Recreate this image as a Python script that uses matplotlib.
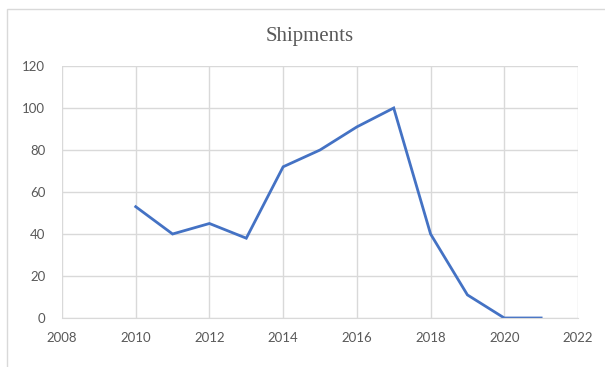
import matplotlib
matplotlib.use("Agg")
import matplotlib.pyplot as plt
from matplotlib.patches import Rectangle

years = [2010, 2011, 2012, 2013, 2014, 2015, 2016, 2017, 2018, 2019, 2020, 2021]
shipments = [53, 40, 45, 38, 72, 80, 91, 100, 40, 11, 0, 0]
x_ticks = [2008, 2010, 2012, 2014, 2016, 2018, 2020, 2022]
y_ticks = [0, 20, 40, 60, 80, 100, 120]

W, H = 605, 367
fig = plt.figure(figsize=(W / 100, H / 100), dpi=100)
fig.patch.set_facecolor("white")

# chart frame
fig.patches.append(Rectangle((7 / W, -0.1), 1.2, 1 - 9 / H + 0.1,
                             transform=fig.transFigure, fill=False,
                             edgecolor="#d9d9d9", linewidth=1.0))

ax = fig.add_axes([62 / W, 1 - 318 / H, (578 - 62) / W, (318 - 66) / H])
ax.plot(years, shipments, color="#4472C4", linewidth=2.0, solid_joinstyle="miter")

ax.set_xlim(2008, 2022)
ax.set_ylim(0, 120)
ax.set_xticks(x_ticks)
ax.set_yticks(y_ticks)
ax.grid(True, color="#d9d9d9", linewidth=1.0)
ax.set_axisbelow(True)
for s in ["top", "right", "left"]:
    ax.spines[s].set_visible(False)
ax.spines["bottom"].set_color("#d9d9d9")
ax.tick_params(length=0, colors="#595959", labelsize=9.5)
ax.tick_params(axis="x", pad=10)
ax.tick_params(axis="y", pad=12)
for lab in ax.get_xticklabels() + ax.get_yticklabels():
    lab.set_family("Lato")

fig.text(310 / W, 1 - 37 / H, "Shipments", ha="center", va="center",
         fontsize=15, color="#595959", family="Liberation Serif")

fig.savefig("out.png", dpi=100)
